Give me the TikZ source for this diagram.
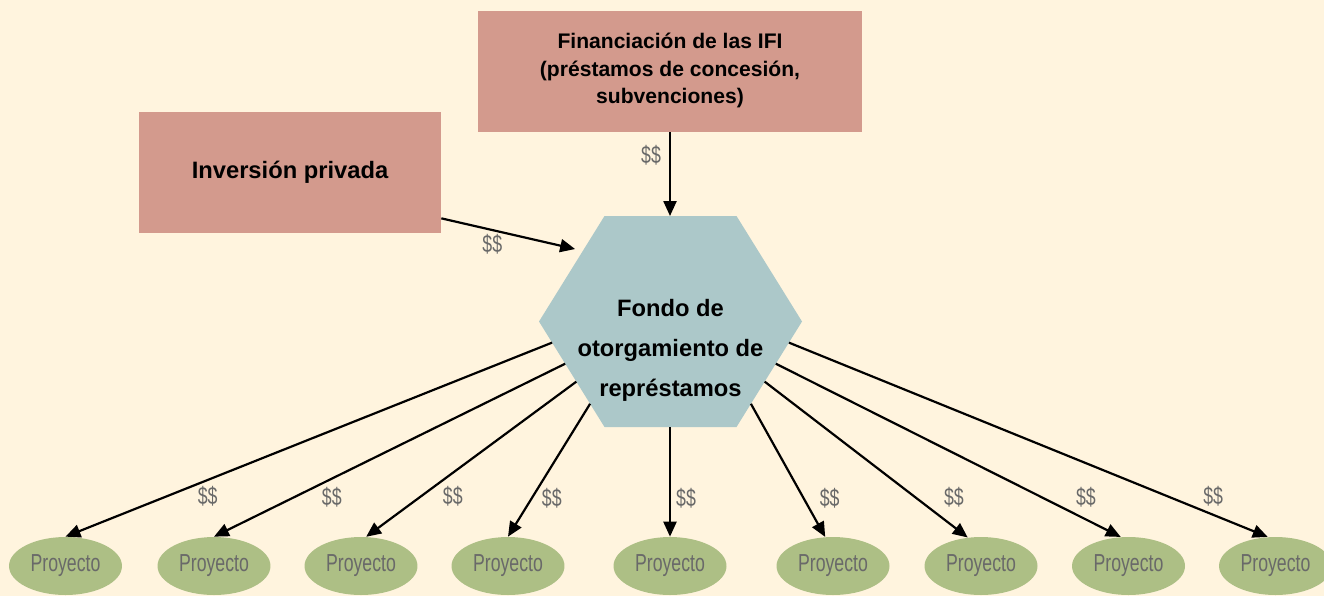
\documentclass[tikz,border=0pt]{standalone}
\usepackage{fontspec}
\setsansfont{Liberation Sans}
\usepackage{graphicx}
\usetikzlibrary{calc,arrows.meta,shapes.geometric}
\definecolor{paperCream}{RGB}{255,244,222}
\definecolor{boxSalmon}{RGB}{211,154,141}
\definecolor{hexTeal}{RGB}{172,200,201}
\definecolor{projGreen}{RGB}{173,191,133}
\definecolor{labelGray}{RGB}{105,105,105}
\newcommand{\Narrow}[1]{\scalebox{0.72}[1]{#1}}

\begin{document}
\begin{tikzpicture}[x=0.02cm,y=-0.02cm,
  srcbox/.style={fill=boxSalmon,minimum height=2.42cm,align=center},
  proj/.style={ellipse,fill=projGreen,minimum width=2.26cm,minimum height=1.16cm,inner sep=0pt,
    text=labelGray,font=\sffamily\fontsize{14}{14}\selectfont},
  dollar/.style={text=labelGray,font=\sffamily\fontsize{14}{14}\selectfont,inner sep=0pt},
  flow/.style={line width=1.25pt,-{Triangle[length=8.5pt,width=7.4pt]}}]
\fill[paperCream] (0,0) rectangle (1324,596);
\useasboundingbox (0,0) rectangle (1324,596);

% sources
\node[srcbox,minimum width=7.68cm,text depth=0.12cm,font=\sffamily\bfseries\fontsize{12}{15.6}\selectfont] (ifi) at (670,71.5)
  {Financiación de las IFI\\(préstamos de concesión,\\subvenciones)};
\node[srcbox,minimum width=6.04cm,font=\sffamily\bfseries\fontsize{13.5}{16}\selectfont] (privada) at (290,172.5)
  {Inversión privada};

% fund (hexagon)
\coordinate (hexL) at (539,321.5);
\coordinate (hexTL) at (604.5,216);
\coordinate (hexTR) at (736.5,216);
\coordinate (hexR) at (802,321.5);
\coordinate (hexBR) at (736.5,427);
\coordinate (hexBL) at (604.5,427);
\fill[hexTeal] (hexL) -- (hexTL) -- (hexTR) -- (hexR) -- (hexBR) -- (hexBL) -- cycle;
\node[align=center,font=\sffamily\bfseries\fontsize{13.5}{22.7}\selectfont] (fondo) at (670.5,350)
  {Fondo de\\otorgamiento de\\représtamos};

% projects
\node[proj] (p1) at (65.5,566) {\Narrow{Proyecto}};
\node[proj] (p2) at (214,566) {\Narrow{Proyecto}};
\node[proj] (p3) at (361,566) {\Narrow{Proyecto}};
\node[proj] (p4) at (508,566) {\Narrow{Proyecto}};
\node[proj] (p5) at (670,566) {\Narrow{Proyecto}};
\node[proj] (p6) at (833,566) {\Narrow{Proyecto}};
\node[proj] (p7) at (981,566) {\Narrow{Proyecto}};
\node[proj] (p8) at (1128.5,566) {\Narrow{Proyecto}};
\node[proj] (p9) at (1275.5,566) {\Narrow{Proyecto}};

% money flows
\draw[flow] (ifi.south -| p5) -- node[dollar,pos=.27,xshift=-0.38cm]{\Narrow{\$\$}} (hexTL -| p5);
\draw[flow,shorten >=0.16cm] ($(privada.south east)+(0,-15)$) -- node[dollar,pos=.36,yshift=-0.28cm]{\Narrow{\$\$}} ($(hexTL)!.33!(hexL)$);
\draw[flow] ($(hexL)!.2!(hexBL)$) -- node[dollar,pos=.79,xshift=.8cm]{\Narrow{\$\$}} (p1.north);
\draw[flow] ($(hexL)!.4!(hexBL)$) -- node[dollar,pos=.77,xshift=.74cm]{\Narrow{\$\$}} (p2.north);
\draw[flow] ($(hexL)!.57!(hexBL)$) -- node[dollar,pos=.74,xshift=.64cm]{\Narrow{\$\$}} (p3.80);
\draw[flow] ($(hexL)!.78!(hexBL)$) -- node[dollar,pos=.71,xshift=.4cm]{\Narrow{\$\$}} (p4.north);
\draw[flow] (hexBL -| p5) -- node[dollar,pos=.65,xshift=.32cm]{\Narrow{\$\$}} (p5.north);
\draw[flow] ($(hexR)!.78!(hexBR)$) -- node[dollar,pos=.71,xshift=.52cm]{\Narrow{\$\$}} (p6.105);
\draw[flow] ($(hexR)!.57!(hexBR)$) -- node[dollar,pos=.74,xshift=.78cm]{\Narrow{\$\$}} (p7.115);
\draw[flow] ($(hexR)!.4!(hexBR)$) -- node[dollar,pos=.77,xshift=.89cm]{\Narrow{\$\$}} (p8.105);
\draw[flow] ($(hexR)!.2!(hexBR)$) -- node[dollar,pos=.79,xshift=.92cm]{\Narrow{\$\$}} (p9.105);
\end{tikzpicture}
\end{document}
